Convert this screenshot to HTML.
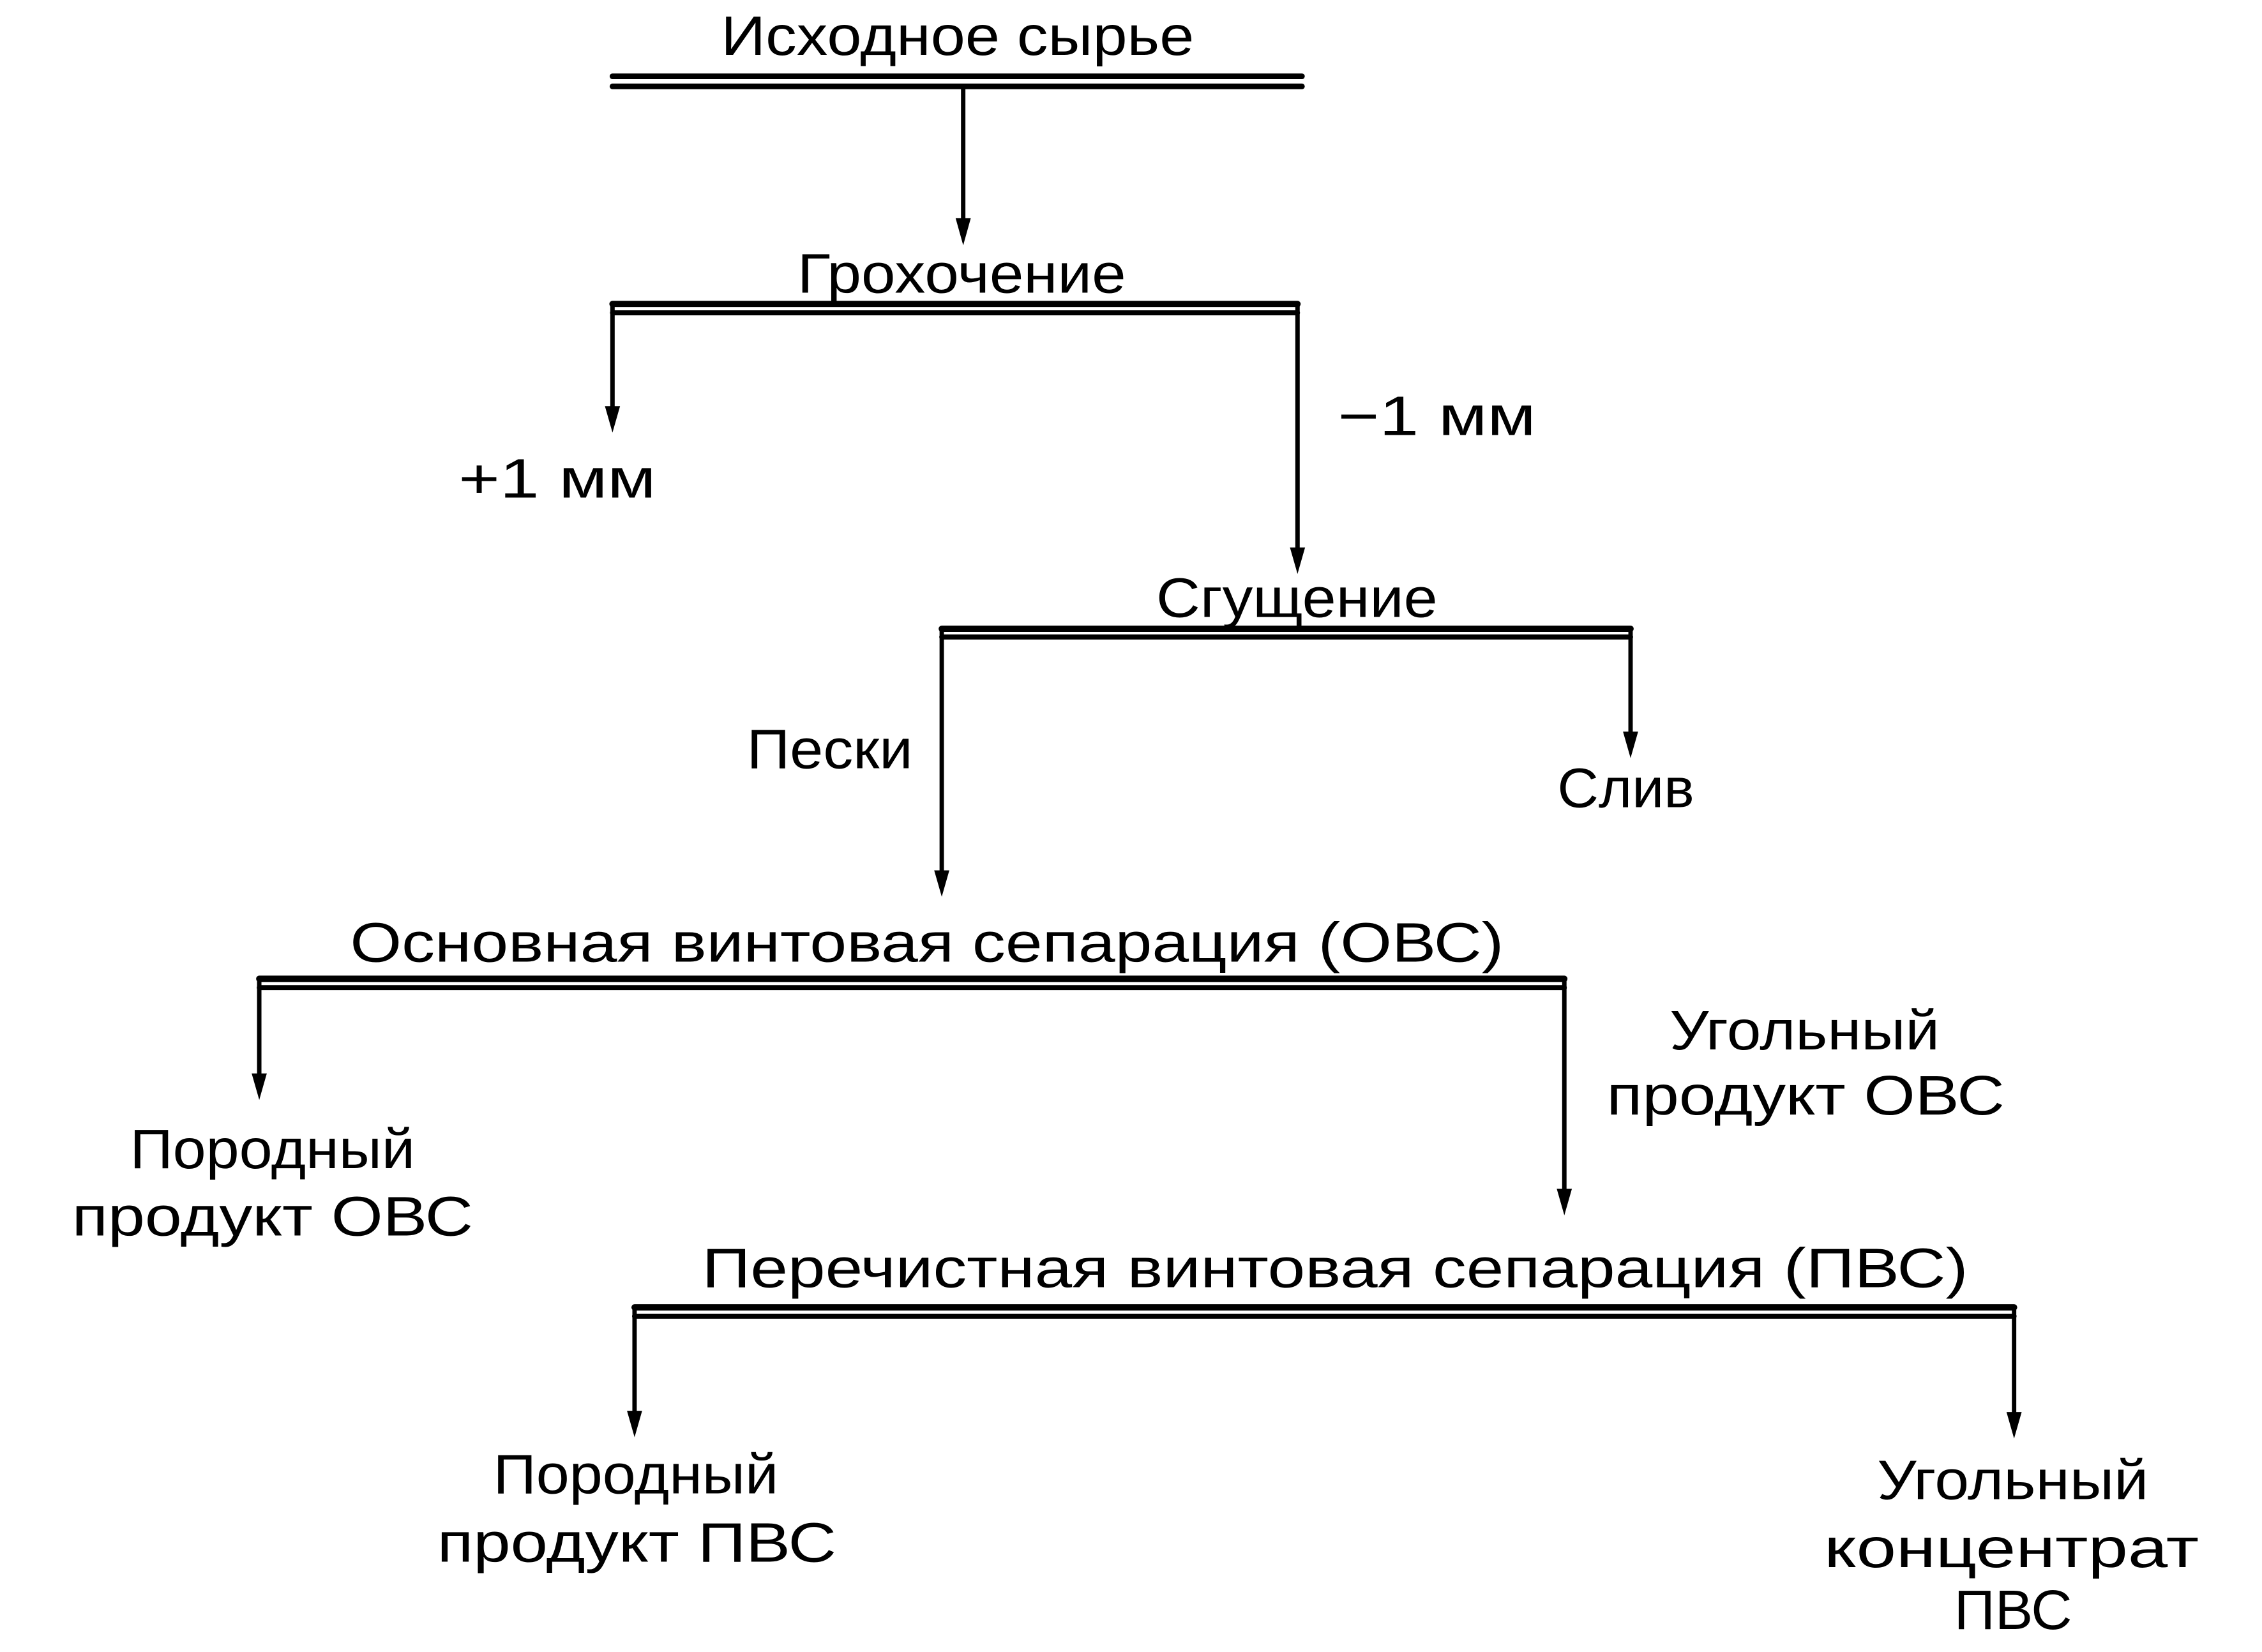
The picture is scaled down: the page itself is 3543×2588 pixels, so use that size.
<!DOCTYPE html>
<html><head><meta charset="utf-8"><style>
html,body{margin:0;padding:0;background:#fff;}
svg{display:block}
text{font-family:"Liberation Sans","DejaVu Sans",sans-serif;font-size:88px;fill:#000;}
</style></head><body>
<svg width="3543" height="2588" viewBox="0 0 3543 2588" xmlns="http://www.w3.org/2000/svg">
<g transform="scale(0.988)">
<g stroke="#000" stroke-width="7" fill="none" stroke-linecap="round">
<line x1="971" y1="121" x2="2064" y2="121" stroke-width="9"/>
<line x1="971" y1="137" x2="2064" y2="137" stroke-width="9"/>
<line x1="1527" y1="137" x2="1527" y2="350"/>
<line x1="971" y1="482" x2="2057" y2="482" stroke-width="10"/>
<line x1="971" y1="496" x2="2057" y2="496" stroke-width="8"/>
<line x1="971" y1="482" x2="971" y2="650"/>
<line x1="2057" y1="482" x2="2057" y2="872"/>
<line x1="1493" y1="997" x2="2585" y2="997" stroke-width="10"/>
<line x1="1493" y1="1010" x2="2585" y2="1010" stroke-width="8"/>
<line x1="1493" y1="997" x2="1493" y2="1384"/>
<line x1="2585" y1="997" x2="2585" y2="1164"/>
<line x1="411" y1="1552" x2="2480" y2="1552" stroke-width="10"/>
<line x1="411" y1="1566" x2="2480" y2="1566" stroke-width="8"/>
<line x1="411" y1="1552" x2="411" y2="1706"/>
<line x1="2480" y1="1552" x2="2480" y2="1889"/>
<line x1="1006" y1="2073" x2="3193" y2="2073" stroke-width="10"/>
<line x1="1006" y1="2087" x2="3193" y2="2087" stroke-width="8"/>
<line x1="1006" y1="2073" x2="1006" y2="2241"/>
<line x1="3193" y1="2073" x2="3193" y2="2243"/>
</g>
<g fill="#000">
<polygon points="1515,346 1539,346 1527,389"/>
<polygon points="959,644 983,644 971,686"/>
<polygon points="2045,868 2069,868 2057,910"/>
<polygon points="1481,1380 1505,1380 1493,1422"/>
<polygon points="2573,1160 2597,1160 2585,1202"/>
<polygon points="399,1702 423,1702 411,1744"/>
<polygon points="2468,1885 2492,1885 2480,1927"/>
<polygon points="994,2237 1018,2237 1006,2279"/>
<polygon points="3181,2239 3205,2239 3193,2281"/>
</g>
<g>
<text x="1143" y="87" textLength="750" lengthAdjust="spacingAndGlyphs">Исходное сырье</text>
<text x="1264" y="464" textLength="521" lengthAdjust="spacingAndGlyphs">Грохочение</text>
<text x="727" y="789" textLength="313" lengthAdjust="spacingAndGlyphs">+1 мм</text>
<text x="2121" y="690" textLength="314" lengthAdjust="spacingAndGlyphs">−1 мм</text>
<text x="1833" y="978" textLength="446" lengthAdjust="spacingAndGlyphs">Сгущение</text>
<text x="1184" y="1218" textLength="263" lengthAdjust="spacingAndGlyphs">Пески</text>
<text x="2469" y="1280" textLength="217" lengthAdjust="spacingAndGlyphs">Слив</text>
<text x="555" y="1525" textLength="1829" lengthAdjust="spacingAndGlyphs">Основная винтовая сепарация (ОВС)</text>
<text x="2647" y="1664" textLength="428" lengthAdjust="spacingAndGlyphs">Угольный</text>
<text x="2547" y="1767" textLength="631" lengthAdjust="spacingAndGlyphs">продукт ОВС</text>
<text x="206" y="1852" textLength="452" lengthAdjust="spacingAndGlyphs">Породный</text>
<text x="114" y="1959" textLength="636" lengthAdjust="spacingAndGlyphs">продукт ОВС</text>
<text x="1113" y="2041" textLength="2007" lengthAdjust="spacingAndGlyphs">Перечистная винтовая сепарация (ПВС)</text>
<text x="782" y="2368" textLength="452" lengthAdjust="spacingAndGlyphs">Породный</text>
<text x="693" y="2476" textLength="633" lengthAdjust="spacingAndGlyphs">продукт ПВС</text>
<text x="2976" y="2377" textLength="430" lengthAdjust="spacingAndGlyphs">Угольный</text>
<text x="2892" y="2485" textLength="594" lengthAdjust="spacingAndGlyphs">концентрат</text>
<text x="3098" y="2583" textLength="187" lengthAdjust="spacingAndGlyphs">ПВС</text>
</g>
</g>
</svg>
</body></html>
